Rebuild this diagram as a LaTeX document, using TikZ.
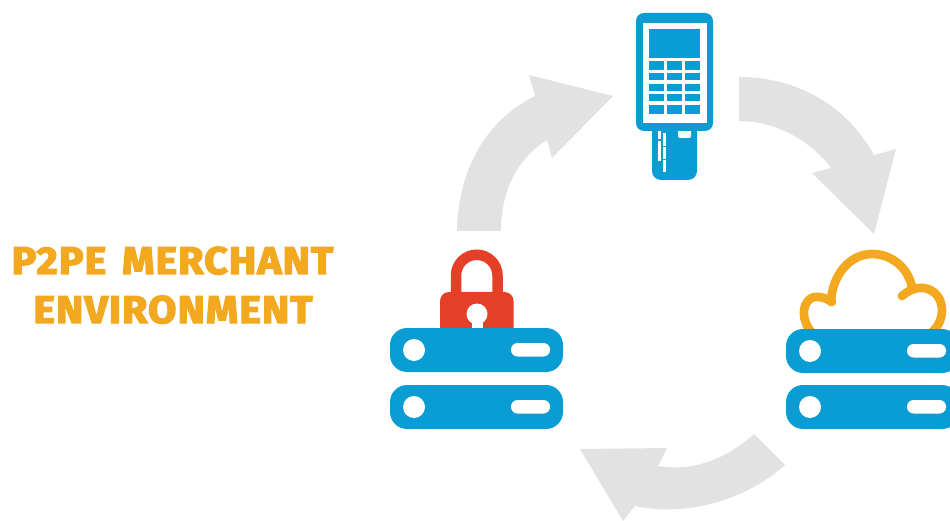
\documentclass[tikz,border=0pt]{standalone}
\usepackage{fontspec}
\newfontfamily\ttlfont[FakeBold=3.6,FakeStretch=1.065,LetterSpace=3]{Fira Sans Bold}
\definecolor{srv}{HTML}{0A9DD4}
\definecolor{org}{HTML}{F2A81F}
\definecolor{lck}{HTML}{E63F27}
\definecolor{arw}{HTML}{E2E2E2}
\tikzset{
  flow/.style={fill=arw,draw=none},
  hole/.style={fill=white,draw=none},
  blue/.style={fill=srv,draw=none},
  cloudline/.style={draw=org,line width=8.7pt,line cap=round,line join=round},
  titletext/.style={text=org,font=\ttlfont\fontsize{38.5}{38.5}\selectfont,inner sep=0pt,anchor=base}
}
\newcommand{\srvunit}[2]{%
  \fill[blue,rounded corners=17pt] (#1,#2) rectangle ++(173,44);
  \fill[hole] (#1+24,#2+22) circle (11);
  \fill[hole,rounded corners=6.5pt] (#1+121,#2+15) rectangle ++(39,13.5);
}
\begin{document}
\begin{tikzpicture}[x=1pt,y=-1pt]
\useasboundingbox (0,0) rectangle (950,521);
% arrows
\fill[flow] (457,231) .. controls (458,165) and (490,118) .. (535,96) -- (529,75) -- (613,96) -- (552,158) -- (547,140) .. controls (518,158) and (501,190) .. (501,231) -- cycle;
\fill[flow] (739,77) .. controls (800,77) and (848,108) .. (874,155) -- (896,149) -- (874,234) -- (812,173) -- (831,168) .. controls (810,140) and (775,121) .. (739,121) -- cycle;
\fill[flow] (785,465) .. controls (750,497) and (690,518) .. (635,506) -- (623,521) -- (580,449) -- (667,448) -- (658,466) .. controls (695,472) and (727,458) .. (754,434) -- cycle;
% terminal
\fill[blue,rounded corners=9pt] (652,120) rectangle (697,180);
\fill[hole] (658,131) rectangle (661,139);
\fill[hole] (658,141) rectangle (661,161);
\fill[hole] (663,133) rectangle (666,146);
\fill[hole] (663,147) rectangle (666,159);
\fill[hole] (663,160) rectangle (666,172);
\fill[hole,rounded corners=2pt] (678,126) rectangle (691,138);
\fill[blue,rounded corners=8pt] (636,13) rectangle (713,131);
\fill[hole] (643,23) rectangle (707,123);
\fill[blue] (649,29) rectangle (700,58);
\foreach \y/\h in {61/9,73.5/7,84/7,94.5/7,105/9}{
  \fill[blue] (649,\y) rectangle ++(15,\h);
  \fill[blue] (667,\y) rectangle ++(15,\h);
  \fill[blue] (685,\y) rectangle ++(15,\h);
}
% lock
\draw[lck,line width=10.5pt] (456,300) -- (456,275.5) arc[start angle=180,end angle=360,radius=20.75] -- (497.5,300);
\fill[lck,rounded corners=9pt] (440,292) rectangle (513.5,345);
\fill[hole] (477,314) circle (10.5);
\fill[hole] (471.5,315) rectangle (482.5,330);
\srvunit{390}{328}
\srvunit{390}{385}
% cloud
\draw[cloudline] (832,302) .. controls (825,297) and (815,295) .. (810,299) .. controls (802,305) and (801,320) .. (812,333);
\draw[cloudline] (831,302) .. controls (832,275) and (850,254) .. (872,254) .. controls (892,254) and (908,268) .. (912,287);
\draw[cloudline] (902,296) .. controls (910,289) and (920,286) .. (928,289) .. controls (945,295) and (947,320) .. (931,333);
\srvunit{786}{329}
\srvunit{786}{385}
% title
\node[titletext] (t1) at (172.5,274) {P2PE\hspace{5pt} MERCHANT};
\node[titletext] (t2) at (173,323) {ENVIRONMENT};
\end{tikzpicture}
\end{document}
